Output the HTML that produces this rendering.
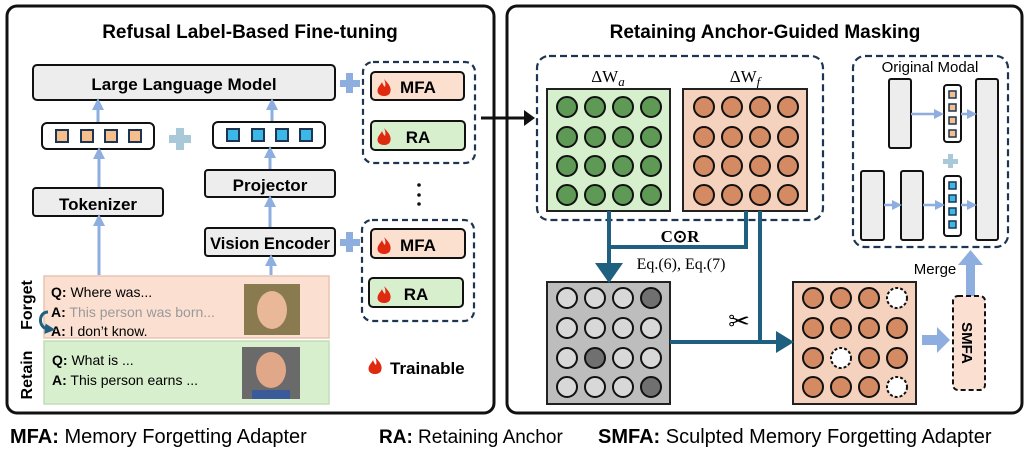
<!DOCTYPE html>
<html><head><meta charset="utf-8"><style>
body{margin:0;background:#fff}
svg{display:block}
text{font-family:"Liberation Sans",sans-serif}
.b{font-weight:bold}
.s{font-family:"Liberation Serif",serif}
</style></head><body>
<svg width="1028" height="450" viewBox="0 0 1028 450" xmlns="http://www.w3.org/2000/svg">
<defs>
<marker id="ab" viewBox="0 0 10 10" refX="5" refY="5" markerWidth="4" markerHeight="4" orient="auto"><path d="M0,0L10,5L0,10z" fill="#8eaee0"/></marker>
<marker id="ad" viewBox="0 0 10 10" refX="3" refY="5" markerWidth="3.5" markerHeight="3.5" orient="auto"><path d="M0,0L10,5L0,10z" fill="#1f5f80"/></marker>
<g id="flame"><path d="M0,-9 C5,-4 8,0 6,5 C4,9 -4,9 -6,5 C-8,0 -3,-3 -2,-6 C-1,-3 0,-2 1,-1 C2,-4 1,-7 0,-9z" fill="#e02a10"/></g>
</defs>
<!-- Left panel -->
<rect x="7" y="6" width="487" height="407" rx="10" fill="#fff" stroke="#111" stroke-width="3"/>
<text x="250" y="38" text-anchor="middle" class="b" font-size="19">Refusal Label-Based Fine-tuning</text>
<rect x="33" y="65" width="302" height="35" rx="4" fill="#ededed" stroke="#111" stroke-width="2"/>
<text x="184" y="90" text-anchor="middle" class="b" font-size="17">Large Language Model</text>
<rect x="42" y="123" width="112" height="26" rx="5" fill="#fff" stroke="#111" stroke-width="2"/>
<g fill="#f6be8c" stroke="#1d3550" stroke-width="2"><rect x="56" y="130" width="12" height="12"/><rect x="81" y="130" width="12" height="12"/><rect x="105" y="130" width="12" height="12"/><rect x="129" y="130" width="12" height="12"/></g>
<rect x="213" y="122" width="112" height="26" rx="5" fill="#fff" stroke="#111" stroke-width="2"/>
<g fill="#3cb8e8" stroke="#1d3550" stroke-width="2"><rect x="227" y="129" width="12" height="12"/><rect x="252" y="129" width="12" height="12"/><rect x="276" y="129" width="12" height="12"/><rect x="300" y="129" width="12" height="12"/></g>
<g fill="#a9c8d8"><rect x="176" y="128" width="8" height="22"/><rect x="169" y="135" width="22" height="8"/></g>
<rect x="33" y="188" width="130" height="28" rx="3" fill="#ededed" stroke="#111" stroke-width="2"/>
<text x="98" y="210" text-anchor="middle" class="b" font-size="17">Tokenizer</text>
<rect x="205" y="170" width="130" height="27" rx="3" fill="#ededed" stroke="#111" stroke-width="2"/>
<text x="270" y="191" text-anchor="middle" class="b" font-size="17">Projector</text>
<rect x="205" y="228" width="130" height="28" rx="3" fill="#ededed" stroke="#111" stroke-width="2"/>
<text x="270" y="249" text-anchor="middle" class="b" font-size="16.5">Vision Encoder</text>
<g stroke="#8eaee0" stroke-width="3" marker-end="url(#ab)">
<line x1="98" y1="122" x2="98" y2="104"/><line x1="272" y1="121" x2="272" y2="104"/>
<line x1="99" y1="187" x2="99" y2="153"/><line x1="270" y1="169" x2="270" y2="152"/>
<line x1="270" y1="227" x2="270" y2="201"/><line x1="99" y1="275" x2="99" y2="220"/>
<line x1="271" y1="275" x2="271" y2="260"/>
</g>
<g fill="#8eaee0"><rect x="346" y="73" width="7" height="20"/><rect x="340" y="80" width="20" height="7"/><rect x="346" y="232" width="7" height="20"/><rect x="340" y="239" width="20" height="7"/></g>
<rect x="363" y="62" width="112" height="101" rx="10" fill="none" stroke="#1d3550" stroke-width="2.2" stroke-dasharray="6,4"/>
<rect x="371" y="72" width="93" height="28" rx="4" fill="#fbe0d0" stroke="#111" stroke-width="2"/>
<use href="#flame" x="384" y="88"/><text x="418" y="93" text-anchor="middle" class="b" font-size="17">MFA</text>
<rect x="371" y="121" width="94" height="29" rx="4" fill="#d8efce" stroke="#111" stroke-width="2"/>
<use href="#flame" x="384" y="137"/><text x="418" y="143" text-anchor="middle" class="b" font-size="17">RA</text>
<g fill="#111"><circle cx="419" cy="185" r="1.8"/><circle cx="419" cy="195" r="1.8"/><circle cx="419" cy="204" r="1.8"/></g>
<rect x="362" y="220" width="112" height="101" rx="10" fill="none" stroke="#1d3550" stroke-width="2.2" stroke-dasharray="6,4"/>
<rect x="371" y="229" width="94" height="29" rx="4" fill="#fbe0d0" stroke="#111" stroke-width="2"/>
<use href="#flame" x="384" y="246"/><text x="418" y="251" text-anchor="middle" class="b" font-size="17">MFA</text>
<rect x="369" y="278" width="94" height="29" rx="4" fill="#d8efce" stroke="#111" stroke-width="2"/>
<use href="#flame" x="384" y="295"/><text x="416" y="300" text-anchor="middle" class="b" font-size="17">RA</text>
<rect x="44" y="276" width="285" height="62" fill="#fbe0d2" stroke="#e8c4b0" stroke-width="1.5"/>
<rect x="44" y="341" width="285" height="63" fill="#d8efce" stroke="#c3dcb8" stroke-width="1.5"/>
<text x="51" y="297" font-size="14"><tspan class="b">Q:</tspan> Where was...</text>
<text x="51" y="317" font-size="14"><tspan class="b">A:</tspan> <tspan fill="#999">This person was born...</tspan></text>
<text x="51" y="336" font-size="14"><tspan class="b">A:</tspan> I don’t know.</text>
<text x="52" y="365" font-size="14"><tspan class="b">Q:</tspan> What is ...</text>
<text x="52" y="385" font-size="14"><tspan class="b">A:</tspan> This person earns ...</text>
<path d="M48,312 C38,312 38,328 48,329" fill="none" stroke="#1f5f80" stroke-width="3" marker-end="url(#ad)"/>
<rect x="244" y="284" width="56" height="51" fill="#8a7a50"/><ellipse cx="272" cy="310" rx="15" ry="19" fill="#e8b898"/>
<rect x="242" y="347" width="58" height="52" fill="#6a6a6a"/><ellipse cx="271" cy="370" rx="15" ry="18" fill="#e0a888"/><rect x="252" y="390" width="38" height="9" fill="#3a5a9a"/>
<text transform="translate(32,305) rotate(-90)" text-anchor="middle" class="b" font-size="16">Forget</text>
<text transform="translate(32,375) rotate(-90)" text-anchor="middle" class="b" font-size="16">Retain</text>
<use href="#flame" x="375" y="366"/><text x="390" y="374" class="b" font-size="17">Trainable</text>
<!-- Right panel -->
<rect x="507" y="6" width="515" height="407" rx="10" fill="#fff" stroke="#111" stroke-width="3"/>
<!-- connector between panels -->
<line x1="481" y1="118" x2="525" y2="118" stroke="#111" stroke-width="3"/><path d="M524,110L535,118L524,126z" fill="#111"/>
<text x="765" y="38" text-anchor="middle" class="b" font-size="19">Retaining Anchor-Guided Masking</text>
<rect x="537" y="56" width="286" height="164" rx="12" fill="none" stroke="#1d3550" stroke-width="2.2" stroke-dasharray="7,4"/>
<text x="608" y="82" text-anchor="middle" class="s" font-size="17">ΔW<tspan font-style="italic" font-size="13" dy="4">a</tspan></text>
<text x="745" y="82" text-anchor="middle" class="s" font-size="17">ΔW<tspan font-style="italic" font-size="13" dy="4">f</tspan></text>
<rect x="547" y="89" width="123" height="122" fill="#d6efcc" stroke="#222" stroke-width="2"/>
<rect x="683" y="89" width="124" height="122" fill="#f4d2be" stroke="#222" stroke-width="2"/>
<g stroke="#111" stroke-width="2" fill="#5e9a55">
<circle cx="567" cy="107" r="10"/><circle cx="595" cy="107" r="10"/><circle cx="623" cy="107" r="10"/><circle cx="651" cy="107" r="10"/>
<circle cx="567" cy="137" r="10"/><circle cx="595" cy="137" r="10"/><circle cx="623" cy="137" r="10"/><circle cx="651" cy="137" r="10"/>
<circle cx="567" cy="166" r="10"/><circle cx="595" cy="166" r="10"/><circle cx="623" cy="166" r="10"/><circle cx="651" cy="166" r="10"/>
<circle cx="567" cy="195" r="10"/><circle cx="595" cy="195" r="10"/><circle cx="623" cy="195" r="10"/><circle cx="651" cy="195" r="10"/>
</g>
<g stroke="#111" stroke-width="2" fill="#d48a62">
<circle cx="704" cy="107" r="10"/><circle cx="732" cy="107" r="10"/><circle cx="760" cy="107" r="10"/><circle cx="788" cy="107" r="10"/>
<circle cx="704" cy="137" r="10"/><circle cx="732" cy="137" r="10"/><circle cx="760" cy="137" r="10"/><circle cx="788" cy="137" r="10"/>
<circle cx="704" cy="166" r="10"/><circle cx="732" cy="166" r="10"/><circle cx="760" cy="166" r="10"/><circle cx="788" cy="166" r="10"/>
<circle cx="704" cy="195" r="10"/><circle cx="732" cy="195" r="10"/><circle cx="760" cy="195" r="10"/><circle cx="788" cy="195" r="10"/>
</g>
<rect x="547" y="282" width="123" height="122" fill="#bdbdbd" stroke="#222" stroke-width="2"/>
<g stroke="#111" stroke-width="2" fill="#d8d8d8">
<circle cx="567" cy="298" r="10"/><circle cx="595" cy="298" r="10"/><circle cx="623" cy="298" r="10"/><circle cx="651" cy="298" r="10" fill="#707070"/>
<circle cx="567" cy="328" r="10"/><circle cx="595" cy="328" r="10"/><circle cx="623" cy="328" r="10"/><circle cx="651" cy="328" r="10"/>
<circle cx="567" cy="358" r="10"/><circle cx="595" cy="358" r="10" fill="#707070"/><circle cx="623" cy="358" r="10"/><circle cx="651" cy="358" r="10"/>
<circle cx="567" cy="387" r="10"/><circle cx="595" cy="387" r="10"/><circle cx="623" cy="387" r="10"/><circle cx="651" cy="387" r="10" fill="#707070"/>
</g>
<rect x="793" y="282" width="123" height="122" fill="#f4d2be" stroke="#222" stroke-width="2"/>
<g stroke="#111" stroke-width="2" fill="#d48a62">
<circle cx="813" cy="298" r="10"/><circle cx="841" cy="298" r="10"/><circle cx="869" cy="298" r="10"/><circle cx="897" cy="298" r="10" fill="#fff" stroke-dasharray="3,2"/>
<circle cx="813" cy="328" r="10"/><circle cx="841" cy="328" r="10"/><circle cx="869" cy="328" r="10"/><circle cx="897" cy="328" r="10"/>
<circle cx="813" cy="358" r="10"/><circle cx="841" cy="358" r="10" fill="#fff" stroke-dasharray="3,2"/><circle cx="869" cy="358" r="10"/><circle cx="897" cy="358" r="10"/>
<circle cx="813" cy="387" r="10"/><circle cx="841" cy="387" r="10"/><circle cx="869" cy="387" r="10"/><circle cx="897" cy="387" r="10" fill="#fff" stroke-dasharray="3,2"/>
</g>
<g stroke="#1f5f80" stroke-width="4" fill="none">
<polyline points="609,211 609,268"/><polyline points="609,247 746,247 746,211"/>
<polyline points="760,211 760,342"/><polyline points="670,342 778,342"/>
</g>
<path d="M595,263L623,263L609,283z" fill="#1f5f80"/>
<path d="M776,331L794,342L776,353z" fill="#1f5f80"/>
<text x="680" y="242" text-anchor="middle" class="s b" font-size="17">C⊙R</text>
<text x="681" y="269" text-anchor="middle" class="s" font-size="16">Eq.(6), Eq.(7)</text>
<text x="739" y="330" text-anchor="middle" font-size="26">✂</text>
<rect x="853" y="56" width="155" height="191" rx="12" fill="none" stroke="#1d3550" stroke-width="2.2" stroke-dasharray="7,4"/>
<text x="930" y="72" text-anchor="middle" font-size="15">Original Modal</text>
<g fill="#ededed" stroke="#111" stroke-width="2">
<rect x="889" y="79" width="22" height="69" rx="2"/><rect x="976" y="79" width="22" height="161" rx="2"/>
<rect x="861" y="171" width="23" height="69" rx="2"/><rect x="901" y="171" width="22" height="69" rx="2"/>
</g>
<rect x="944" y="85" width="17" height="57" rx="3" fill="#fff" stroke="#111" stroke-width="2"/>
<rect x="944" y="176" width="17" height="60" rx="3" fill="#fff" stroke="#111" stroke-width="2"/>
<g fill="#f6be8c" stroke="#1d3550" stroke-width="1.5"><rect x="949" y="91" width="7" height="7"/><rect x="949" y="104" width="7" height="7"/><rect x="949" y="117" width="7" height="7"/><rect x="949" y="130" width="7" height="7"/></g>
<g fill="#3cb8e8" stroke="#1d3550" stroke-width="1.5"><rect x="949" y="182" width="7" height="7"/><rect x="949" y="195" width="7" height="7"/><rect x="949" y="208" width="7" height="7"/><rect x="949" y="221" width="7" height="7"/></g>
<g fill="#a9c8d8"><rect x="948" y="154" width="5" height="14"/><rect x="943" y="159" width="15" height="5"/></g>
<g stroke="#8eaee0" stroke-width="2.5" marker-end="url(#ab)">
<line x1="911" y1="114" x2="939" y2="114"/><line x1="961" y1="114" x2="972" y2="114"/>
<line x1="884" y1="205" x2="897" y2="205"/><line x1="923" y1="205" x2="940" y2="205"/><line x1="961" y1="205" x2="972" y2="205"/>
</g>
<text x="935" y="274" text-anchor="middle" font-size="15">Merge</text>
<rect x="966" y="264" width="9" height="33" fill="#8eaee0"/><path d="M958,265L983,265L970.5,250z" fill="#8eaee0"/>
<rect x="922" y="335" width="16" height="10" fill="#8eaee0"/><path d="M937,327L950,340L937,353z" fill="#8eaee0"/>
<rect x="953" y="296" width="32" height="94" rx="5" fill="#fbe0d2" stroke="#111" stroke-width="2" stroke-dasharray="5,3"/>
<text transform="translate(962,343) rotate(90)" text-anchor="middle" class="b" font-size="15">SMFA</text>
<!-- legend -->
<text x="10" y="443" font-size="20"><tspan class="b">MFA:</tspan> Memory Forgetting Adapter</text>
<text x="379" y="443" font-size="19"><tspan class="b">RA:</tspan> Retaining Anchor</text>
<text x="598" y="443" font-size="20"><tspan class="b">SMFA:</tspan> Sculpted Memory Forgetting Adapter</text>
</svg>
</body></html>
